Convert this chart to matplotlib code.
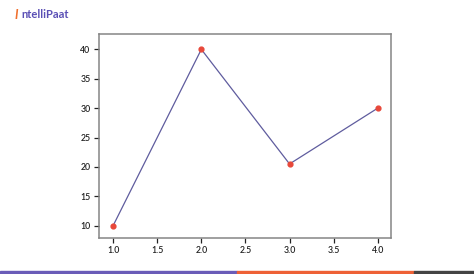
import matplotlib
matplotlib.use("Agg")
import matplotlib.pyplot as plt
from matplotlib.patches import Rectangle

x_vals = [1, 2, 3, 4]
y_vals = [10, 40, 20.5, 30]
x_ticks = [1.0, 1.5, 2.0, 2.5, 3.0, 3.5, 4.0]
y_ticks = [10, 15, 20, 25, 30, 35, 40]

plt.rcParams['font.family'] = ['Lato', 'DejaVu Sans']

fig = plt.figure(figsize=(4.74, 2.74), dpi=100)
ax = fig.add_axes([99/474, 1-238/274, (391-99)/474, (238-33.5)/274])
ax.plot(x_vals, y_vals, color='#5f5c9e', linewidth=0.9, zorder=2)
ax.scatter(x_vals, y_vals, color='#e8483a', s=12, zorder=3)
ax.set_xlim(0.84, 4.15)
ax.set_ylim(7.9, 42.7)
ax.set_xticks(x_ticks)
ax.set_xticklabels([f"{v:.1f}" for v in x_ticks])
ax.set_yticks(y_ticks)
ax.set_yticklabels([str(v) for v in y_ticks])
ax.tick_params(labelsize=6.3, length=3.5, width=0.9, color='#222222', labelcolor='#222222', pad=2.5)
for lab in ax.get_xticklabels() + ax.get_yticklabels():
    lab.set_fontweight('semibold')
for s in ax.spines.values():
    s.set_color('#858585')
    s.set_linewidth(1.1)

# bottom colour bar
fig.patches.append(Rectangle((0, 0), 237/474, 3/274, transform=fig.transFigure, color='#6a5cb8', zorder=5))
fig.patches.append(Rectangle((237/474, 0), (414-237)/474, 3/274, transform=fig.transFigure, color='#ee6136', zorder=5))
fig.patches.append(Rectangle((414/474, 0), 60/474, 3/274, transform=fig.transFigure, color='#444444', zorder=5))

# logo
fig.text(15/474, 1-15/274, "I", color='#f0702e', fontsize=9, fontweight='bold', va='center', ha='left', style='italic')
fig.text(21/474, 1-15/274, "ntelliPaat", color='#5a4fb5', fontsize=8, fontweight='bold', va='center', ha='left')

fig.savefig("out.png", dpi=100)
